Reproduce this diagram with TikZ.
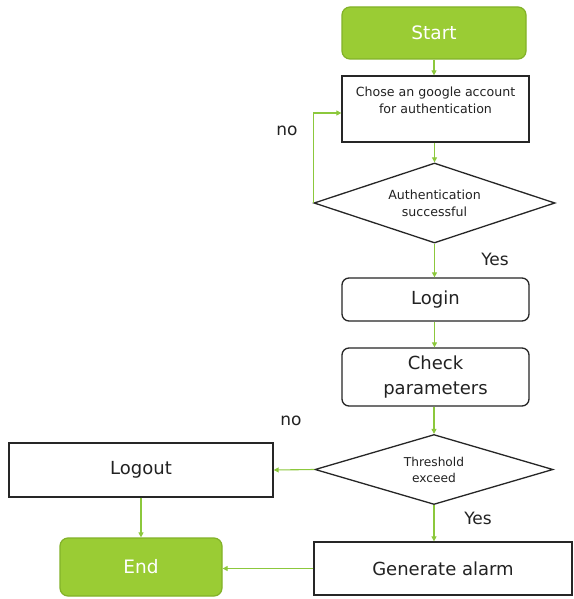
\documentclass[tikz,border=0pt]{standalone}
\usepackage{fontspec}
\setmainfont{DejaVu Sans}
\usetikzlibrary{shapes.geometric,arrows.meta,calc}
\definecolor{lgreen}{RGB}{154,204,52}
\definecolor{lgreenb}{RGB}{130,178,40}
\definecolor{arrg}{RGB}{140,200,60}
\definecolor{txt}{RGB}{34,34,34}
\tikzset{
  box/.style={draw=black!85, line width=1.3pt, fill=white, text=txt, inner sep=0pt, align=center},
  rbox/.style={box, rounded corners=7pt},
  term/.style={draw=lgreenb, line width=1.2pt, fill=lgreen, text=white, rounded corners=8pt, inner sep=0pt, font=\fontsize{18.5}{22}\selectfont},
  dec/.style={draw=black!85, line width=1.3pt, fill=white, diamond, inner sep=0pt, text=txt, align=center},
  conn/.style={draw=arrg, line width=1.1pt, -{Triangle[length=5pt,width=5pt]}},
  lab/.style={text=txt, font=\fontsize{17}{20}\selectfont, inner sep=0pt},
  big/.style={font=\fontsize{18}{25}\selectfont},
  small/.style={font=\fontsize{12.6}{17}\selectfont}
}
\begin{document}
\begin{tikzpicture}[x=1pt,y=-1pt]
\useasboundingbox[fill=white] (0,0) rectangle (573,599);
\node[term, minimum width=184pt, minimum height=52pt] (start) at (434,33) {Start};
\node[box, small, minimum width=187pt, minimum height=66pt] (chose) at (435.5,109) {Chose an google account\\for authentication\\\mbox{}};
\node[dec, small, aspect=3.0, minimum width=241pt, minimum height=80pt] (auth) at (434.5,203) {Authentication\\successful};
\node[rbox, big, minimum width=187pt, minimum height=43pt] (login) at (435.5,299.5) {Login};
\node[rbox, big, minimum width=187pt, minimum height=58pt] (check) at (435.5,377) {Check\\parameters};
\node[dec, font=\fontsize{12.2}{16}\selectfont, aspect=3.4, minimum width=238pt, minimum height=70pt] (thr) at (434,469.5) {Threshold\\exceed};
\node[box, big, minimum width=264pt, minimum height=54pt] (logout) at (141,470) {Logout};
\node[term, minimum width=162pt, minimum height=58pt] (end) at (141,567) {End};
\node[box, big, minimum width=258pt, minimum height=53pt] (alarm) at (443,568.5) {Generate alarm};
\node[lab] (no1) at (287,131) {no};
\node[lab] (yes1) at (495,259) {Yes};
\node[lab] (no2) at (291,421) {no};
\node[lab] (yes2) at (478,518) {Yes};
\draw[conn] (start.south) -- (chose.north -| start.south);
\draw[conn] (chose.south -| auth.north) -- (auth.north);
\draw[conn] (auth.west) |- ($(chose.west)+(0,4)$);
\draw[conn] (auth.south) -- (login.north -| auth.south);
\draw[conn] (login.south -| auth.south) -- (check.north -| auth.south);
\draw[conn] (check.south -| thr.north) -- (thr.north);
\draw[conn] (thr.west) -- (logout.east);
\draw[conn] (thr.south) -- (alarm.north -| thr.south);
\draw[conn] (logout.south) -- (end.north);
\draw[conn] (alarm.west) -- (alarm.west -| end.east);
\end{tikzpicture}
\end{document}
